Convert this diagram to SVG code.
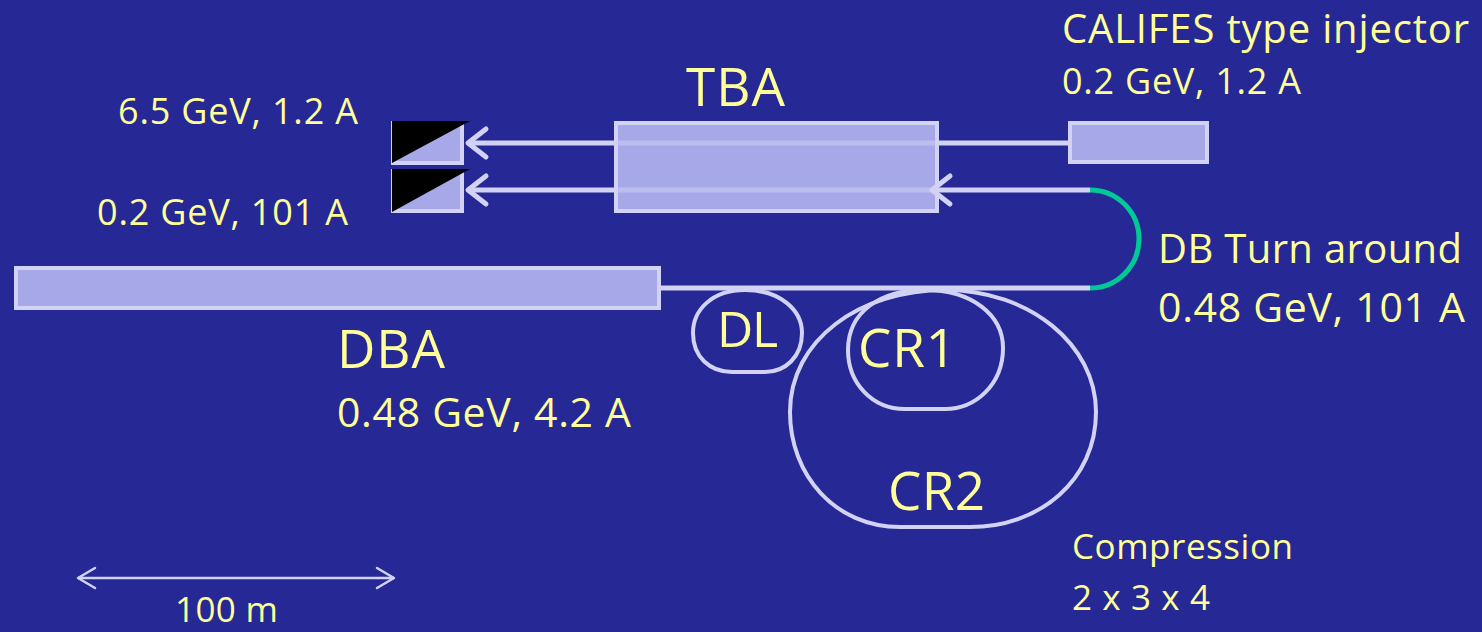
<svg xmlns="http://www.w3.org/2000/svg" width="1482" height="632" viewBox="0 0 1482 632">
<style>
.bg{fill:#262895}
.box{fill:#A6A8E8;stroke:#D2D3F4;stroke-width:4}
.line{stroke:#D2D3F4;stroke-width:5;fill:none}
.ring{stroke:#D2D3F4;stroke-width:4;fill:none}
.chev{stroke:#D2D3F4;stroke-width:5;fill:none;stroke-linecap:round;stroke-linejoin:round}
.t{font-family:"Open Sans","Liberation Sans",sans-serif;fill:#FFFF99}
</style>
<rect class="bg" x="0" y="0" width="1482" height="632"/>
<g id="connectors">
<line class="line" x1="1070" y1="143" x2="468" y2="143"/>
<path class="chev" d="M486,129 L468,143 L486,157"/>
<line class="line" x1="1090" y1="190" x2="468" y2="190"/>
<path class="chev" d="M486,176 L468,190 L486,204"/>
<line class="line" x1="660" y1="288" x2="1090" y2="288"/>
<path d="M1090,190 A49,49 0 0 1 1090,288" fill="none" stroke="#00C896" stroke-width="5"/>
<line x1="78" y1="578" x2="394" y2="578" stroke="#D2D3F4" stroke-width="2.5"/>
<path d="M95,568 L78,578 L95,588" fill="none" stroke="#D2D3F4" stroke-width="2.5" stroke-linecap="round" stroke-linejoin="round"/>
<path d="M377,568 L394,578 L377,588" fill="none" stroke="#D2D3F4" stroke-width="2.5" stroke-linecap="round" stroke-linejoin="round"/>
</g>
<g id="dump1">
<rect class="box" x="393" y="123" width="69" height="40"/>
<polygon points="392,121 470,121 392,163" fill="#000"/>
</g>
<g id="dump2">
<rect class="box" x="393" y="171" width="69" height="40"/>
<polygon points="392,169 470,169 392,212" fill="#000"/>
</g>
<g id="tba">
<rect class="box" x="616" y="123" width="321" height="88"/>
<line x1="618" y1="143" x2="935" y2="143" stroke="#D2D3F4" stroke-width="5" opacity="0.5"/>
<line x1="618" y1="190" x2="935" y2="190" stroke="#D2D3F4" stroke-width="5" opacity="0.5"/>
<path class="chev" d="M950,176 L932,190 L950,204"/>
<text class="t" font-size="53" x="686" y="106" textLength="99">TBA</text>
</g>
<g id="califes">
<rect class="box" x="1070" y="123" width="137" height="39"/>
<text class="t" font-size="40" x="1062" y="43" textLength="407">CALIFES type injector</text>
<text class="t" font-size="36" x="1062" y="94" textLength="239">0.2 GeV, 1.2 A</text>
</g>
<g id="dba">
<rect class="box" x="16" y="268" width="643" height="40"/>
<text class="t" font-size="53" x="337" y="368" textLength="108">DBA</text>
<text class="t" font-size="41" x="337" y="427" textLength="294">0.48 GeV, 4.2 A</text>
</g>
<g id="dl">
<path class="ring" d="M745,290 C780,290 802,310 802,333 C802,357 785,372 765,372 L732,372 C710,372 693,357 693,333 C693,310 712,290 745,290 Z"/>
<text class="t" font-size="50" x="717" y="347" textLength="61">DL</text>
</g>
<g id="cr1">
<path class="ring" d="M925,290 C972,290 1003,315 1003,348 C1003,385 975,409 945,409 L905,409 C872,409 848,383 848,350 C848,312 880,290 925,290 Z"/>
<text class="t" font-size="53" x="858" y="367" textLength="98">CR1</text>
</g>
<g id="cr2">
<path class="ring" d="M945,290 C1030,290 1096,345 1096,412 C1096,480 1040,527 970,527 L900,527 C835,527 790,475 790,412 C790,340 860,290 945,290 Z"/>
<text class="t" font-size="53" x="888" y="510" textLength="97">CR2</text>
</g>
<g id="labels">
<text class="t" font-size="36" x="118" y="124" textLength="240">6.5 GeV, 1.2 A</text>
<text class="t" font-size="36" x="97" y="225" textLength="251">0.2 GeV, 101 A</text>
<text class="t" font-size="40" x="1158" y="263" textLength="304">DB Turn around</text>
<text class="t" font-size="41" x="1158" y="322" textLength="307">0.48 GeV, 101 A</text>
<text class="t" font-size="35" x="1072" y="559" textLength="221">Compression</text>
<text class="t" font-size="35" x="1072" y="610" textLength="138">2 x 3 x 4</text>
<text class="t" font-size="35" x="175" y="622" textLength="103">100 m</text>
</g>
</svg>
